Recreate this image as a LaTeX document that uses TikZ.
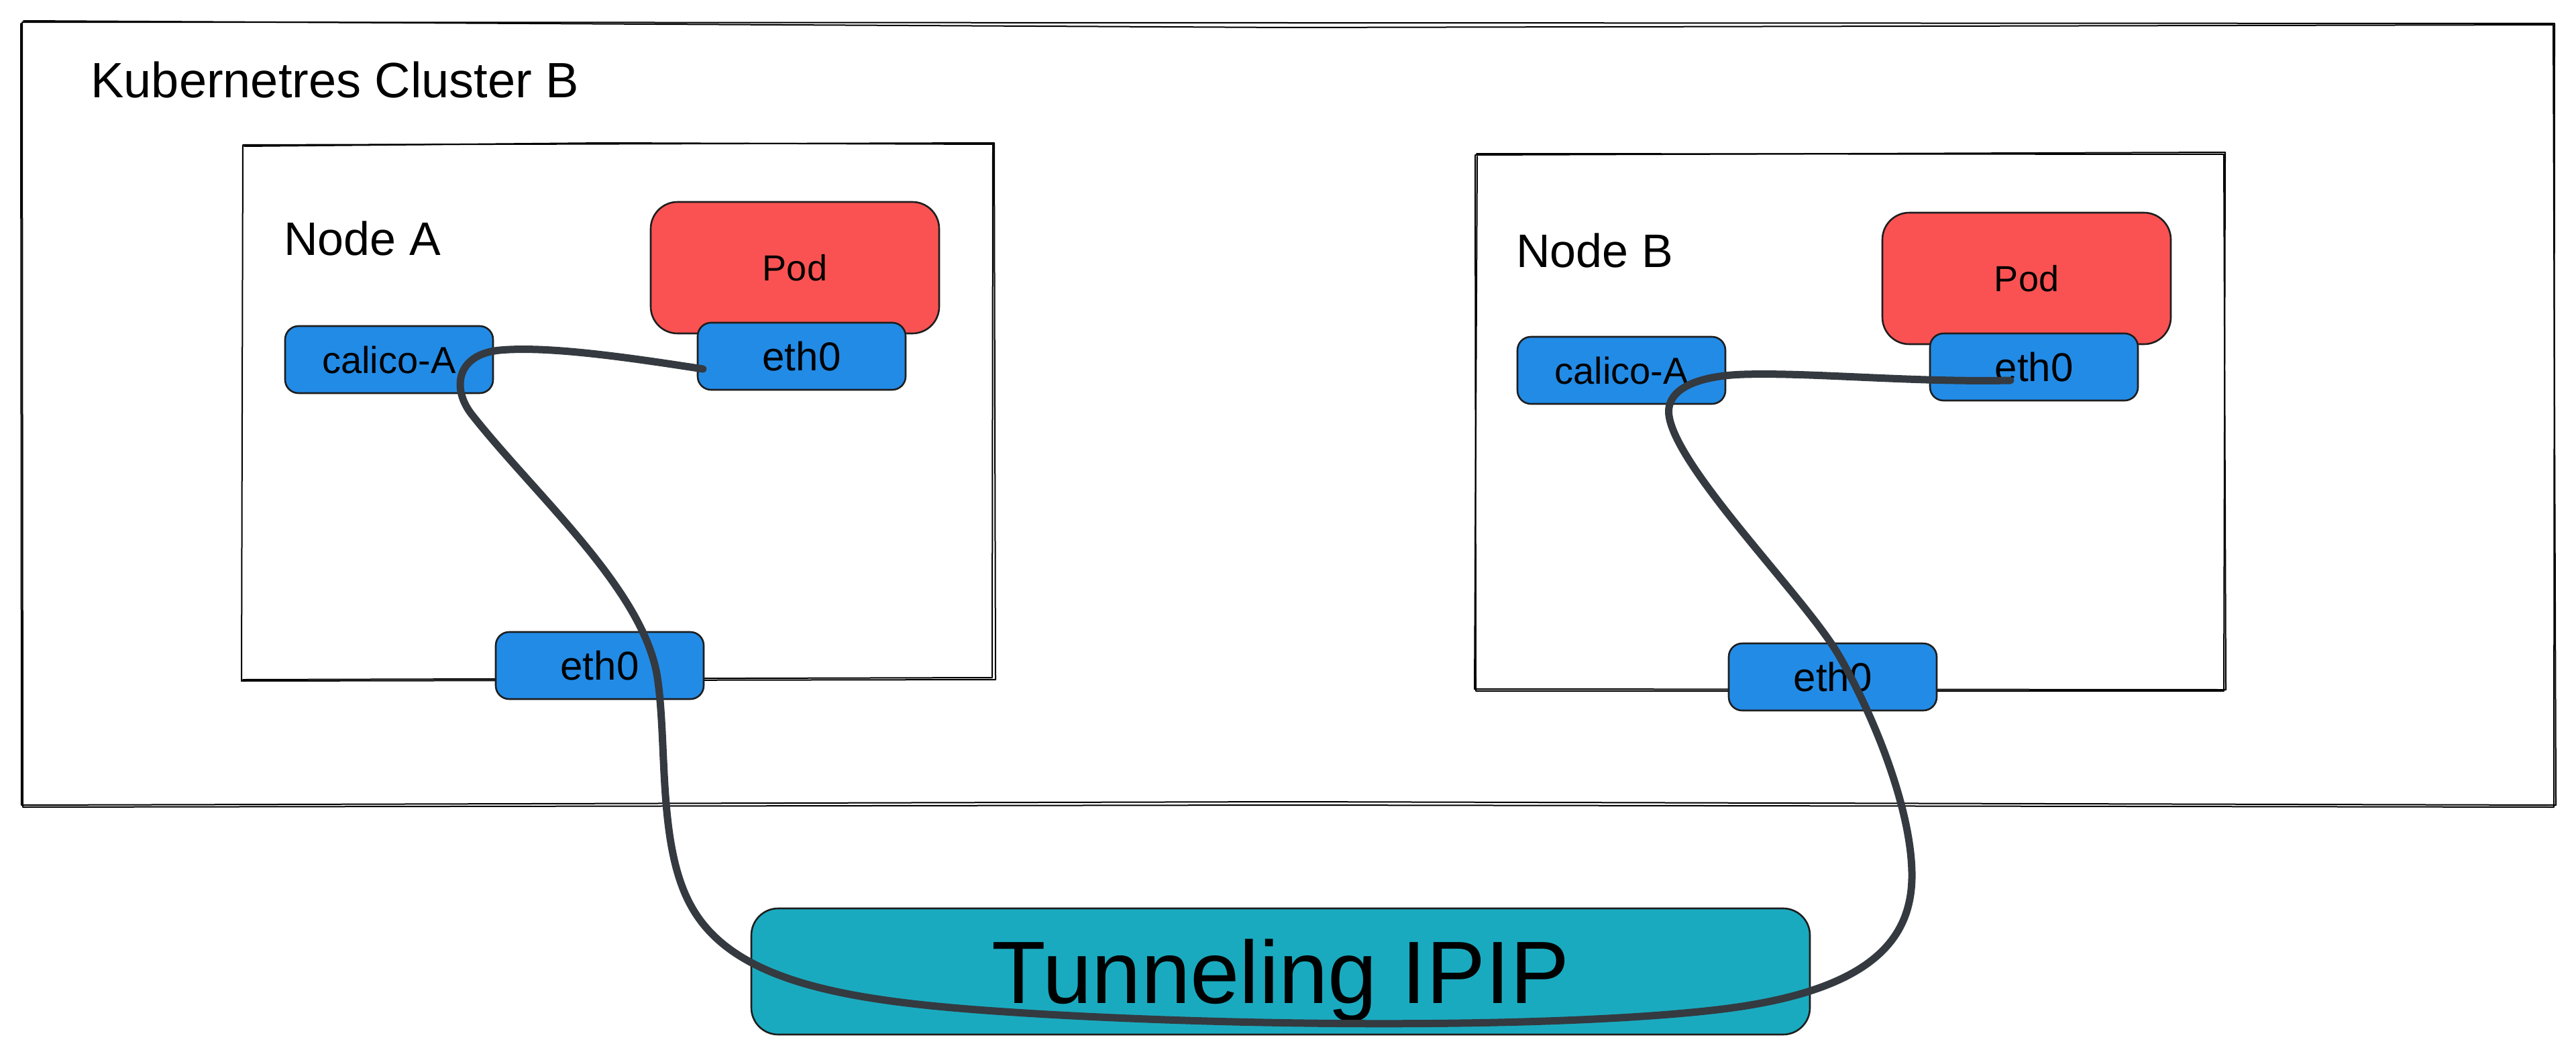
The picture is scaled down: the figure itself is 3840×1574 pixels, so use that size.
\documentclass[tikz,border=0pt]{standalone}
\usepackage{fontspec}
\setmainfont{Liberation Sans}
\definecolor{blueb}{HTML}{228BE6}
\definecolor{redp}{HTML}{FA5252}
\definecolor{tealt}{HTML}{1AAABF}
\definecolor{wirec}{HTML}{343A40}
\definecolor{strokec}{HTML}{1E1E1E}
\tikzset{
  sketch/.style={draw=black, line width=1pt, line join=round, line cap=round},
  rbox/.style={draw=strokec, line width=1.3pt, inner sep=0pt},
  ifbox/.style={rbox, fill=blueb, rounded corners=10pt, minimum width=155pt, minimum height=50pt},
  calfont/.style={font=\fontsize{28pt}{34pt}\selectfont, text height=20pt, text depth=0pt},
  ethfont/.style={font=\fontsize{30pt}{36pt}\selectfont, text height=21.5pt, text depth=0pt},
  podbox/.style={rbox, fill=redp, rounded corners=20pt, minimum width=215pt, minimum height=98pt,
    font=\fontsize{27pt}{32pt}\selectfont, text height=19.3pt, text depth=0pt},
  tunbox/.style={rbox, fill=tealt, rounded corners=20pt, minimum width=789pt, minimum height=94pt,
    font=\fontsize{66pt}{76pt}\selectfont, text height=47.3pt, text depth=0pt},
  lbl/.style={anchor=base west, inner sep=0pt},
  wire/.style={draw=wirec, line width=5.5pt, line cap=round, line join=round}
}
\begin{document}
\begin{tikzpicture}[x=0.5pt,y=-0.5pt]
\useasboundingbox (0,0) rectangle (3840,1574);

% cluster (sketchy double stroke)
\draw[sketch] (33,33) -- (1920,34) -- (3808,35) -- (3807,1203) -- (1920,1200) -- (34,1203) -- cycle;
\draw[sketch] (35,31) -- (1920,41) -- (3806,37) -- (3810,1200) -- (1920,1195) -- (32,1200) -- (31,35);
\node[lbl, font=\fontsize{37pt}{44pt}\selectfont] (title) at (135,145) {Kubernetres Cluster B};

% node A
\draw[sketch] (362,216) -- (1482,213) -- (1484,1013) -- (360,1015) -- cycle;
\draw[sketch] (364,218) -- (900,213) -- (1480,215) -- (1479,1010) -- (362,1013);
\node[lbl, font=\fontsize{35pt}{42pt}\selectfont] (nodeAlbl) at (423,380) {Node A};

% node B
\draw[sketch] (2199,231) -- (3317,227) -- (3315,1030) -- (2200,1030) -- cycle;
\draw[sketch] (2201,229) -- (3315,230) -- (3318,1028) -- (2198,1027) -- (2202,233);
\node[lbl, font=\fontsize{35pt}{42pt}\selectfont] (nodeBlbl) at (2260,398) {Node B};

% pods
\node[podbox] (podA) at (1185,399) {Pod};
\node[podbox] (podB) at (3021,415) {Pod};

% interfaces
\node[ifbox, calfont] (calA) at (580,536) {calico-A};
\node[ifbox, ethfont] (ethA) at (1195,531) {eth0};
\node[ifbox, ethfont] (ethNA) at (894,992) {eth0};
\node[ifbox, calfont] (calB) at (2417,552) {calico-A};
\node[ifbox, ethfont] (ethB) at (3032,547) {eth0};
\node[ifbox, ethfont] (ethNB) at (2732,1009) {eth0};

% tunnel
\node[tunbox] (tun) at (1909,1448) {Tunneling IPIP};

% wire: eth0 (pod A) -> calico-A -> eth0 (node A) -> tunnel -> eth0 (node B) -> calico-A -> eth0 (pod B)
\coordinate (wA) at (1048,550);
\coordinate (wB) at (2997,567);
\draw[wire] (wA)
  .. controls (950,535) and (820,515) .. (745,522)
  .. controls (680,528) and (672,580) .. (705,620)
  .. controls (800,740) and (960,880) .. (980,1010)
  .. controls (995,1110) and (980,1260) .. (1030,1350)
  .. controls (1090,1460) and (1250,1490) .. (1469,1506)
  .. controls (1800,1530) and (2300,1535) .. (2560,1505)
  .. controls (2790,1478) and (2852,1400) .. (2850,1300)
  .. controls (2848,1200) and (2790,1060) .. (2740,975)
  .. controls (2690,890) and (2500,700) .. (2488,620)
  .. controls (2482,580) and (2530,560) .. (2600,558)
  .. controls (2700,555) and (2850,570) .. (wB);
\end{tikzpicture}
\end{document}
